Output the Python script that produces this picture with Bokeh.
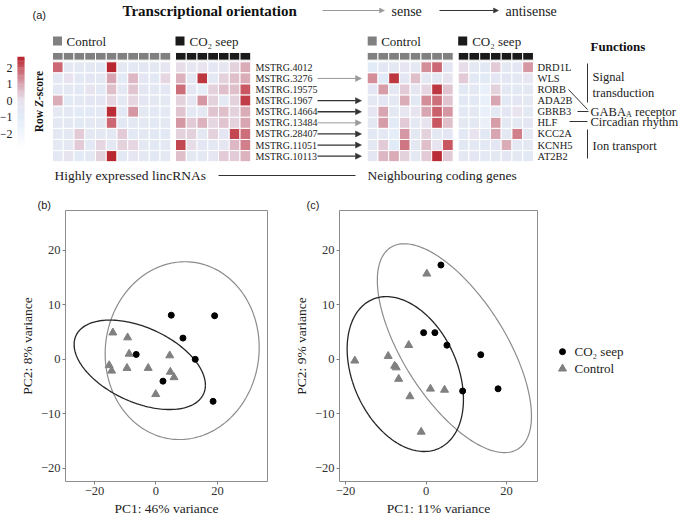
import numpy as np
from bokeh.plotting import figure
from bokeh.models import (Range1d, ColumnDataSource, LinearColorMapper, FixedTicker,
                          Arrow, NormalHead, Title)
from bokeh.layouts import column, row
from bokeh.core.properties import value
from bokeh.embed import file_html
from bokeh.resources import INLINE

SERIF = "Liberation Serif"
SANS = "Liberation Sans"

# ---------------- data: heatmap (a) ----------------
lnc_ids = ["MSTRG.4012", "MSTRG.3276", "MSTRG.19575", "MSTRG.1967", "MSTRG.14664",
           "MSTRG.13484", "MSTRG.28407", "MSTRG.11051", "MSTRG.10113"]
lnc_control = [
    [1.8, -0.6, -0.6, -0.6, -0.7, 2.6, -0.6, -0.7, -0.5, -0.6, -0.4],
    [-0.6, 0.0, -0.7, -0.5, -0.6, 1.0, -0.9, 0.7, -0.5, -0.8, 0.2],
    [-0.6, -0.6, -0.7, -0.1, -0.7, 0.6, -0.6, 0.5, -0.5, -0.6, -0.5],
    [0.9, -0.9, -0.6, -0.5, -0.5, 0.2, -0.6, 0.2, -0.5, -0.6, -0.6],
    [-0.6, -0.6, -0.9, -0.7, -0.6, 2.5, -0.7, 1.2, -0.6, -0.7, -0.6],
    [-0.6, -0.6, -0.7, -0.6, -0.6, 1.8, -0.7, -0.6, -0.6, -0.8, -0.6],
    [-0.6, -0.6, 0.4, -0.6, -0.6, -0.6, 0.4, -0.7, -0.6, -0.8, -0.7],
    [-0.6, -0.6, 0.4, -0.8, 0.2, -0.6, 0.3, 0.2, -0.6, -0.8, -0.6],
    [-0.6, -0.1, -0.9, -0.6, 0.3, 2.6, -0.8, -0.4, -0.6, -0.7, -0.6],
]
lnc_seep = [
    [0.1, -0.4, 0.0, -0.5, -0.4, 0.3, 0.9],
    [0.8, -0.6, 2.4, -0.6, 0.3, 0.6, 0.9],
    [1.7, -0.5, -1.3, 0.3, 0.6, 0.6, 2.0],
    [0.3, -0.4, 1.2, 0.3, -0.6, 0.3, 2.3],
    [0.5, -0.6, -0.6, 0.5, 0.6, 0.3, 0.9],
    [1.2, 0.4, 0.8, 0.2, 0.5, 0.3, 1.0],
    [0.3, 0.3, -0.6, 0.3, -0.5, 2.2, 1.7],
    [2.2, 0.1, -0.5, -0.6, -0.4, 0.7, 1.5],
    [0.6, -0.6, -0.6, -0.4, 0.4, 0.4, 0.8],
]
gene_ids = ["DRD1L", "WLS", "RORB", "ADA2B", "GBRB3", "HLF", "KCC2A", "KCNH5", "AT2B2"]
gene_control = [
    [-1.0, -0.5, -0.6, -0.3, -0.6, 1.3, 1.8, -0.5],
    [1.3, -1.0, 2.4, -0.5, 0.6, -0.6, -0.6, -0.1],
    [-0.5, 1.1, -0.6, 0.4, -0.4, 0.2, 2.4, 0.5],
    [-0.6, -0.5, -0.6, 0.9, -0.8, 1.3, 1.7, 0.5],
    [-0.4, 1.0, -0.6, -0.2, -0.1, 1.0, 1.9, 1.2],
    [-0.6, 1.1, -0.9, 0.4, -0.6, -0.1, 2.0, 0.6],
    [-0.7, -0.6, -1.2, 1.2, -0.6, 0.3, -0.6, -0.5],
    [-0.6, 0.4, -1.0, 1.6, -0.6, 0.6, -0.1, 2.0],
    [-0.5, 0.7, 0.9, 0.3, -0.6, 0.4, 2.5, 0.4],
]
gene_seep = [
    [0.1, -0.6, -0.8, 0.4, -0.6, -0.5, 1.2],
    [0.4, -0.7, -0.9, -0.5, -0.5, -0.6, -0.3],
    [-0.7, -0.6, -1.5, 0.3, -0.6, -0.7, -0.6],
    [-0.8, -0.7, -1.5, 1.0, -0.7, -0.5, -0.6],
    [-0.7, -0.6, -1.5, -0.6, -0.5, 0.0, -0.7],
    [-0.6, -0.6, -1.5, 1.1, -0.6, -0.6, -0.5],
    [-0.7, 0.0, -0.8, 1.0, -0.6, 1.5, -0.6],
    [-0.7, -0.6, -0.8, -0.5, 0.9, -0.6, -0.6],
    [-0.6, -0.5, -0.7, -0.6, -0.5, -0.6, -0.7],
]
arrow_lnc = ["MSTRG.3276", "MSTRG.1967", "MSTRG.14664", "MSTRG.13484",
             "MSTRG.28407", "MSTRG.11051", "MSTRG.10113"]
arrow_kind = ["sense", "antisense", "antisense", "sense", "antisense", "antisense", "antisense"]
zscore_ticks = [2, 1, 0, -1, -2]

# ---------------- data: PCA (b), (c) ----------------
b_seep_x = [5.0, 19.1, 8.8, -6.4, 12.8, 2.3, 18.6]
b_seep_y = [8.1, 8.0, 3.9, 0.9, 0.0, -4.0, -7.7]
b_ctrl_x = [-14.0, -9.2, -8.7, 4.5, -15.2, -14.4, -9.4, -2.5, 4.7, 5.9, -0.05]
b_ctrl_y = [4.9, 4.0, 1.0, 0.7, -1.1, -2.1, -1.6, -1.6, -2.3, -3.3, -6.4]
c_seep_x = [3.7, -0.6, 2.2, 5.2, 13.6, 9.1, 17.9]
c_seep_y = [17.3, 4.9, 4.9, 2.6, 0.85, -5.8, -5.4]
c_ctrl_x = [0.2, -17.7, -9.4, -4.3, -7.8, -7.4, -6.8, -4.0, 1.1, 4.6, -1.2]
c_ctrl_y = [15.7, -0.25, 0.6, 2.6, -1.2, -1.5, -3.6, -6.8, -5.4, -5.6, -13.3]
# ellipses: centre x, centre y, x half-extent, y half-extent, phase (deg)
b_ell_dark = (-5.25, -1.0, 21.35, 8.2, 117)
b_ell_gray = (8.55, 1.6, 25.05, 16.3, 88)
c_ell_dark = (-5.15, -2.7, 14.45, 14.2, 109)
c_ell_gray = (7.05, 2.05, 19.15, 19.15, 130.5)

# ---------------- colour scale ----------------
Z_LOW, Z_HIGH = -2.9, 2.6
anchors = [(-2.9, "#ffffff"), (-1.0, "#e1ebf7"), (0.0, "#e8e3ee"),
           (1.0, "#d8a6b2"), (2.0, "#c85964"), (2.6, "#b8262f")]
av = np.array([a[0] for a in anchors])
ac = np.array([[int(c[i:i + 2], 16) for i in (1, 3, 5)] for _, c in anchors], float)
grid = np.linspace(Z_LOW, Z_HIGH, 256)
palette = ["#%02x%02x%02x" % tuple(int(round(np.interp(g, av, ac[:, k]))) for k in range(3))
           for g in grid]
mapper = LinearColorMapper(palette=palette, low=Z_LOW, high=Z_HIGH)

GRAY = "#808080"
DARK = "#1a1a1a"
TXT = "#222222"

# ---------------- top figure (a), page-pixel coordinates ----------------
W, H = 680, 518
TOP_H = 184
top = figure(width=W, height=TOP_H, x_range=Range1d(0, W), y_range=Range1d(TOP_H, 0),
             x_axis_type=None, y_axis_type=None, output_backend="svg", toolbar_location=None,
             min_border=0, min_border_left=0, min_border_right=0, min_border_top=0,
             min_border_bottom=0)
top.grid.visible = False
top.outline_line_color = None

CW, CH = 10.75, 11.1
Y0 = 61.3
HDR_Y, HDR_H = 55.8, 7.7


def add_heat(xc, xs_, ctrl, seep):
    xs, ys, zs = [], [], []
    hx, hc = [], []
    for i in range(len(ctrl)):
        for j, v in enumerate(ctrl[i]):
            xs.append(xc + (j + 0.5) * CW); ys.append(Y0 + (i + 0.5) * CH); zs.append(v)
        for j, v in enumerate(seep[i]):
            xs.append(xs_ + (j + 0.5) * CW); ys.append(Y0 + (i + 0.5) * CH); zs.append(v)
    for j in range(len(ctrl[0])):
        hx.append(xc + (j + 0.5) * CW); hc.append(GRAY)
    for j in range(len(seep[0])):
        hx.append(xs_ + (j + 0.5) * CW); hc.append(DARK)
    src = ColumnDataSource(dict(x=xs, y=ys, z=zs))
    top.rect("x", "y", width=CW, height=CH, source=src,
             fill_color={"field": "z", "transform": mapper}, line_color="white", line_width=1)
    top.rect(x=hx, y=[HDR_Y] * len(hx), width=CW, height=HDR_H, fill_color=hc,
             line_color="white", line_width=1)
    # group keys
    top.rect(x=[xc + 5, xs_ + 4.5], y=[40.5, 40.5], width=9, height=9,
             fill_color=[GRAY, DARK], line_color=None)
    top.text(x=[xc + 14, xs_ + 14], y=[41, 41], text=["Control", "CO\u2082 seep"],
             text_font=value(SERIF), text_font_size="13px", text_baseline="middle",
             text_color=TXT)


add_heat(52, 175, lnc_control, lnc_seep)
add_heat(366.7, 457.7, gene_control, gene_seep)

row_y = [Y0 + (i + 0.5) * CH for i in range(len(lnc_ids))]
top.text(x=[255] * len(lnc_ids), y=row_y, text=lnc_ids, text_font=value(SERIF),
         text_font_size="10px", text_baseline="middle", text_color=TXT)
top.text(x=[537] * len(gene_ids), y=row_y, text=gene_ids, text_font=value(SERIF),
         text_font_size="10.5px", text_baseline="middle", text_color=TXT)

# arrows between lincRNAs and neighbouring genes
for name, kind in zip(arrow_lnc, arrow_kind):
    yy = row_y[lnc_ids.index(name)]
    col = "#999999" if kind == "sense" else "#333333"
    top.add_layout(Arrow(end=NormalHead(size=6, fill_color=col, line_color=col, line_width=0.5),
                         x_start=317, y_start=yy, x_end=361, y_end=yy,
                         line_color=col, line_width=1.0 if kind == "sense" else 1.3))

# title row
top.text(x=[122], y=[10.5], text=["Transcriptional orientation"], text_font=value(SERIF),
         text_font_size="15px", text_font_style="bold", text_baseline="middle", text_color="#111111")
top.text(x=[32], y=[14], text=["(a)"], text_font=value(SANS), text_font_size="11px",
         text_baseline="middle", text_color=TXT)
top.add_layout(Arrow(end=NormalHead(size=5, fill_color="#999999", line_color="#999999", line_width=0.5),
                     x_start=322, y_start=10, x_end=384, y_end=10, line_color="#999999", line_width=1))
top.add_layout(Arrow(end=NormalHead(size=5, fill_color="#333333", line_color="#333333", line_width=0.5),
                     x_start=439, y_start=10, x_end=498, y_end=10, line_color="#333333", line_width=1))
top.text(x=[391, 505], y=[10.5, 10.5], text=["sense", "antisense"], text_font=value(SERIF),
         text_font_size="14px", text_baseline="middle", text_color=TXT)

# colour bar
cb_v = np.linspace(Z_LOW, Z_HIGH, 80)
cb_step = (Z_HIGH - Z_LOW) / 79
CB_Y0, CB_K = 100.0, 16.5
cb_src = ColumnDataSource(dict(x=[20.5] * len(cb_v), y=[CB_Y0 - CB_K * v for v in cb_v],
                               z=list(cb_v)))
top.rect("x", "y", width=7, height=CB_K * cb_step + 0.4, source=cb_src,
         fill_color={"field": "z", "transform": mapper}, line_color=None)
top.text(x=[12] * len(zscore_ticks), y=[CB_Y0 - CB_K * t for t in zscore_ticks],
         text=[("\u2212" + str(-t)) if t < 0 else str(t) for t in zscore_ticks],
         text_font=value(SERIF), text_font_size="12px", text_baseline="middle",
         text_align="right", text_color=TXT)
# "Row Z-score" (vertical, Z in italic)
top.text(x=[38, 38, 38], y=[131.8, 106.6, 99.6], text=["Row", "Z", "-score"], angle=np.pi / 2,
         text_font=value(SERIF), text_font_size="11.5px",
         text_font_style=["bold", "bold italic", "bold"], text_align="left",
         text_baseline="middle", text_color="#111111")

# functions
top.text(x=[590], y=[46], text=["Functions"], text_font=value(SERIF), text_font_size="13px",
         text_font_style="bold", text_baseline="middle", text_color="#111111")
top.segment(x0=[587, 587, 568, 577, 569], y0=[63, 129, 89, 111, 121],
            x1=[587, 587, 587, 588, 587], y1=[102, 158, 109, 111, 121],
            line_color="#333333", line_width=1)
top.text(x=[592, 592, 590, 590, 592], y=[76, 92, 111, 121, 145],
         text=["Signal", "transduction", "GABA", "Circadian rhythm", "Ion transport"],
         text_font=value(SERIF), text_font_size="12.5px", text_baseline="middle",
         text_color=TXT)
top.text(x=[625.6], y=[114], text=["A"], text_font=value(SERIF), text_font_size="8px",
         text_baseline="middle", text_color=TXT)
top.text(x=[634.5], y=[111], text=["receptor"], text_font=value(SERIF), text_font_size="12.5px",
         text_baseline="middle", text_color=TXT)

# bottom captions
top.text(x=[54, 367], y=[175, 175], text=["Highly expressed lincRNAs", "Neighbouring coding genes"],
         text_font=value(SERIF), text_font_size="13.5px", text_baseline="middle", text_color=TXT)
top.segment(x0=[218], y0=[175], x1=[355], y1=[175], line_color="#333333", line_width=1)


# ---------------- PCA panels ----------------
def ellipse_path(params):
    cx, cy, rx, ry, ph = params
    t = np.linspace(0, 2 * np.pi, 200)
    return cx + rx * np.cos(t), cy + ry * np.cos(t - np.radians(ph))


BOT_H = H - TOP_H


def pca_panel(width, xr, mb_left, mb_right, label, lab_off, xlabel, ylabel, sx, sy, ctrl, ell_d, ell_g):
    p = figure(width=width, height=BOT_H, x_range=Range1d(*xr), y_range=Range1d(-22.4, 27.3),
               output_backend="svg", toolbar_location=None,
               min_border_left=mb_left, min_border_right=mb_right, min_border_top=26,
               min_border_bottom=36)
    p.title = Title(text=label, text_font=SANS, text_font_size="11px", text_font_style="normal",
                    align="left", offset=lab_off, standoff=0, text_color=TXT)
    p.grid.visible = False
    p.outline_line_color = "#8c8c8c"
    p.outline_line_width = 1
    p.xaxis.ticker = FixedTicker(ticks=[-20, 0, 20])
    p.yaxis.ticker = FixedTicker(ticks=[-20, -10, 0, 10, 20])
    for ax in (p.xaxis, p.yaxis):
        ax.axis_line_color = None
        ax.major_tick_line_color = "#7f7f7f"
        ax.major_tick_out = 3
        ax.major_tick_in = 0
        ax.minor_tick_line_color = None
        ax.major_label_text_font = SERIF
        ax.major_label_text_font_size = "12.5px"
        ax.major_label_text_color = "#333333"
        ax.major_label_standoff = 2
        ax.axis_label_text_font = SERIF
        ax.axis_label_text_font_size = "13.5px"
        ax.axis_label_text_font_style = "normal"
        ax.axis_label_text_color = TXT
        ax.axis_label_standoff = 3
        ax.major_label_overrides = {-20: "\u221220", -10: "\u221210"}
    p.xaxis.axis_label = xlabel
    p.yaxis.axis_label = ylabel
    ex, ey = ellipse_path(ell_g)
    p.line(ex, ey, line_color="#8c8c8c", line_width=1.2)
    ex, ey = ellipse_path(ell_d)
    p.line(ex, ey, line_color="#262626", line_width=1.3)
    p.scatter(ctrl[0], ctrl[1], marker="triangle", size=8, fill_color=GRAY, line_color=GRAY)
    p.scatter(sx, sy, marker="circle", size=6, fill_color="#000000", line_color="#000000")
    return p


pb = pca_panel(290, (-29.4, 36.3), 65, 23, "(b)", -28, "PC1: 46% variance", "PC2: 8% variance",
               b_seep_x, b_seep_y, (b_ctrl_x, b_ctrl_y), b_ell_dark, b_ell_gray)
pc = pca_panel(255, (-21.5, 27.7), 48, 8, "(c)", -33, "PC1: 11% variance", "PC2: 9% variance",
               c_seep_x, c_seep_y, (c_ctrl_x, c_ctrl_y), c_ell_dark, c_ell_gray)

# legend panel
pl = figure(width=W - 545, height=BOT_H, x_range=Range1d(545, W), y_range=Range1d(H, TOP_H),
            x_axis_type=None, y_axis_type=None, output_backend="svg", toolbar_location=None,
            min_border=0, min_border_left=0, min_border_right=0, min_border_top=0, min_border_bottom=0)
pl.grid.visible = False
pl.outline_line_color = None
legend_labels = ["CO\u2082 seep", "Control"]
legend_markers = ["circle", "triangle"]
legend_colors = ["#000000", GRAY]
ly = [358 + 21 * i for i in range(len(legend_labels))]
pl.scatter(x=[562] * 2, y=ly, marker=legend_markers, size=[6, 8], fill_color=legend_colors,
           line_color=legend_colors)
pl.text(x=[574] * 2, y=ly, text=legend_labels, text_font=value(SERIF), text_font_size="13px",
        text_baseline="middle", text_color=TXT)

layout = column(top, row(pb, pc, pl, spacing=0), spacing=0)
open("out.html", "w").write(file_html(layout, INLINE))
